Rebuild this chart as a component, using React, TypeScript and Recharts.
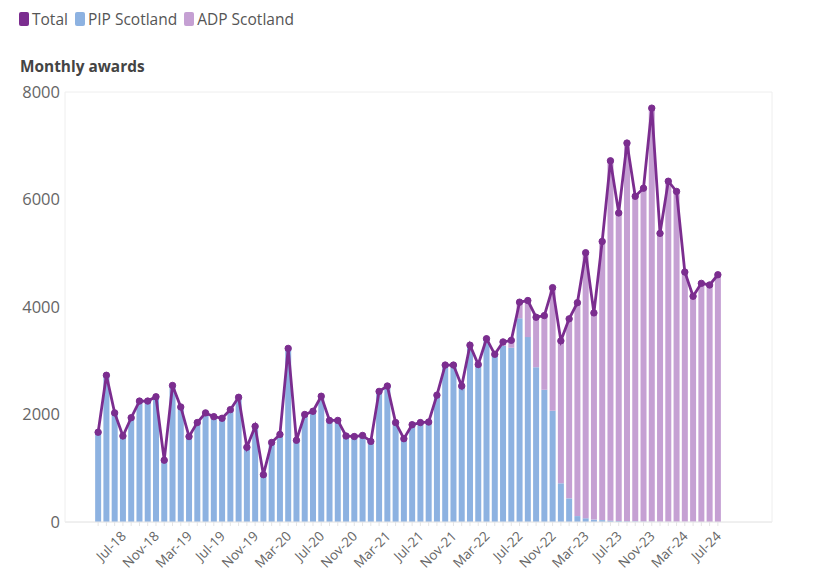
import React from 'react';
import { ComposedChart, Bar, Line, XAxis, YAxis, CartesianGrid } from 'recharts';

const months = [
  'Apr-18','May-18','Jun-18','Jul-18','Aug-18','Sep-18','Oct-18','Nov-18','Dec-18',
  'Jan-19','Feb-19','Mar-19','Apr-19','May-19','Jun-19','Jul-19','Aug-19','Sep-19','Oct-19','Nov-19','Dec-19',
  'Jan-20','Feb-20','Mar-20','Apr-20','May-20','Jun-20','Jul-20','Aug-20','Sep-20','Oct-20','Nov-20','Dec-20',
  'Jan-21','Feb-21','Mar-21','Apr-21','May-21','Jun-21','Jul-21','Aug-21','Sep-21','Oct-21','Nov-21','Dec-21',
  'Jan-22','Feb-22','Mar-22','Apr-22','May-22','Jun-22','Jul-22','Aug-22','Sep-22','Oct-22','Nov-22','Dec-22',
  'Jan-23','Feb-23','Mar-23','Apr-23','May-23','Jun-23','Jul-23','Aug-23','Sep-23','Oct-23','Nov-23','Dec-23',
  'Jan-24','Feb-24','Mar-24','Apr-24','May-24','Jun-24','Jul-24',
];

const totalAwards = [
  1670, 2730, 2030, 1600, 1940, 2250, 2250, 2330, 1150,
  2540, 2140, 1590, 1850, 2030, 1960, 1930, 2090, 2320, 1390, 1780, 880,
  1480, 1630, 3230, 1520, 2000, 2060, 2340, 1890, 1890, 1600, 1590, 1610,
  1500, 2430, 2530, 1850, 1550, 1810, 1850, 1860, 2360, 2920, 2920, 2530,
  3290, 2930, 3410, 3120, 3350, 3380, 4090, 4120, 3810, 3840, 4360, 3370,
  3780, 4080, 5010, 3890, 5220, 6720, 5750, 7050, 6060, 6210, 7700, 5370,
  6340, 6150, 4650, 4200, 4440, 4410, 4600,
];

const pipScotland = [
  1670, 2730, 2030, 1600, 1940, 2250, 2250, 2330, 1150,
  2540, 2140, 1590, 1850, 2030, 1960, 1930, 2090, 2320, 1390, 1780, 880,
  1480, 1630, 3230, 1520, 2000, 2060, 2340, 1890, 1890, 1600, 1590, 1610,
  1500, 2430, 2530, 1850, 1550, 1810, 1850, 1860, 2360, 2920, 2920, 2530,
  3290, 2930, 3410, 3090, 3280, 3240, 3790, 3440, 2880, 2460, 2070, 720,
  440, 110, 70, 45, 35, 25, 20, 15, 12, 10, 8, 6,
  5, 4, 3, 3, 2, 2, 2,
];

const adpScotland = [
  0, 0, 0, 0, 0, 0, 0, 0, 0,
  0, 0, 0, 0, 0, 0, 0, 0, 0, 0, 0, 0,
  0, 0, 0, 0, 0, 0, 0, 0, 0, 0, 0, 0,
  0, 0, 0, 0, 0, 0, 0, 0, 0, 0, 0, 0,
  0, 0, 0, 30, 70, 140, 300, 680, 930, 1380, 2290, 2650,
  3340, 3970, 4940, 3845, 5185, 6695, 5730, 7035, 6048, 6200, 7692, 5364,
  6335, 6146, 4647, 4197, 4438, 4408, 4598,
];

const tickLabels = [
  'Jul-18','Nov-18','Mar-19','Jul-19','Nov-19','Mar-20','Jul-20','Nov-20','Mar-21','Jul-21',
  'Nov-21','Mar-22','Jul-22','Nov-22','Mar-23','Jul-23','Nov-23','Mar-24','Jul-24',
];

const yTicks = [0, 2000, 4000, 6000, 8000];

const data = months.map((m, i) => ({
  month: m,
  total: totalAwards[i],
  pip: pipScotland[i],
  adp: adpScotland[i],
}));

const FONT = '"Open Sans", "Noto Sans", sans-serif';
const C_TOTAL = '#7b2d8f';
const C_PIP = '#8db2e1';
const C_ADP = '#c5a0d3';

const XTick = (props: any) => {
  const { x, y, payload } = props;
  const v = payload.value as string;
  if (!tickLabels.includes(v)) return null;
  return (
    <g transform={`translate(${x + 4},${y + 9})`}>
      <text x={0} y={0} textAnchor="end" transform="rotate(-45)" fill="#666" fontSize={13.5} fontFamily={FONT}>
        {v}
      </text>
    </g>
  );
};

const legendItems = [
  { label: 'Total', color: C_TOTAL },
  { label: 'PIP Scotland', color: C_PIP },
  { label: 'ADP Scotland', color: C_ADP },
];

export default function App() {
  return (
    <div style={{ position: 'absolute', left: 0, top: 0, width: 830, height: 573, background: '#fff', fontFamily: FONT }}>
      <div style={{ position: 'absolute', left: 19, top: 8, display: 'flex', alignItems: 'center', fontSize: 15.5, color: '#555' }}>
        {legendItems.map((it) => (
          <div key={it.label} style={{ display: 'flex', alignItems: 'center', marginRight: 7 }}>
            <span style={{ display: 'inline-block', width: 10, height: 14, borderRadius: 2, background: it.color, marginRight: 3 }} />
            <span>{it.label}</span>
          </div>
        ))}
      </div>
      <div style={{ position: 'absolute', left: 20, top: 56, fontSize: 15.4, fontWeight: 700, color: '#444' }}>
        Monthly awards
      </div>
      <div style={{ position: 'absolute', left: 0, top: 0 }}>
        <ComposedChart
          width={830}
          height={573}
          data={data}
          margin={{ top: 92, right: 0, bottom: 0, left: 0 }}
          barCategoryGap={1.15}
        >
          <CartesianGrid vertical={false} stroke="#eeeeee" />
          <XAxis
            dataKey="month"
            interval={0}
            tick={<XTick />}
            tickLine={{ stroke: '#e4e4e4' }}
            tickSize={4}
            tickMargin={2}
            axisLine={{ stroke: '#e8e8e8' }}
            height={51}
            padding={{ left: 29, right: 50 }}
          />
          <YAxis
            yAxisId="left"
            orientation="left"
            domain={[0, 8000]}
            ticks={yTicks}
            width={65}
            tickSize={0}
            tickMargin={5}
            axisLine={{ stroke: '#eeeeee' }}
            tick={{ fill: '#666', fontSize: 16.5, fontFamily: FONT }}
          />
          <YAxis
            yAxisId="right"
            orientation="right"
            domain={[0, 8000]}
            ticks={yTicks}
            width={58}
            tickSize={0}
            tickMargin={11}
            axisLine={{ stroke: '#eeeeee' }}
            tick={{ fill: '#666', fontSize: 16.5, fontFamily: FONT, textAnchor: 'start' }}
          />
          <Bar yAxisId="left" dataKey="pip" stackId="s" fill={C_PIP} isAnimationActive={false} />
          <Bar yAxisId="left" dataKey="adp" stackId="s" fill={C_ADP} isAnimationActive={false} />
          <Line
            yAxisId="left"
            dataKey="total"
            stroke={C_TOTAL}
            strokeWidth={2.8}
            dot={{ r: 3.2, fill: C_TOTAL, stroke: C_TOTAL, strokeWidth: 1 }}
            isAnimationActive={false}
            type="linear"
          />
        </ComposedChart>
      </div>
    </div>
  );
}
